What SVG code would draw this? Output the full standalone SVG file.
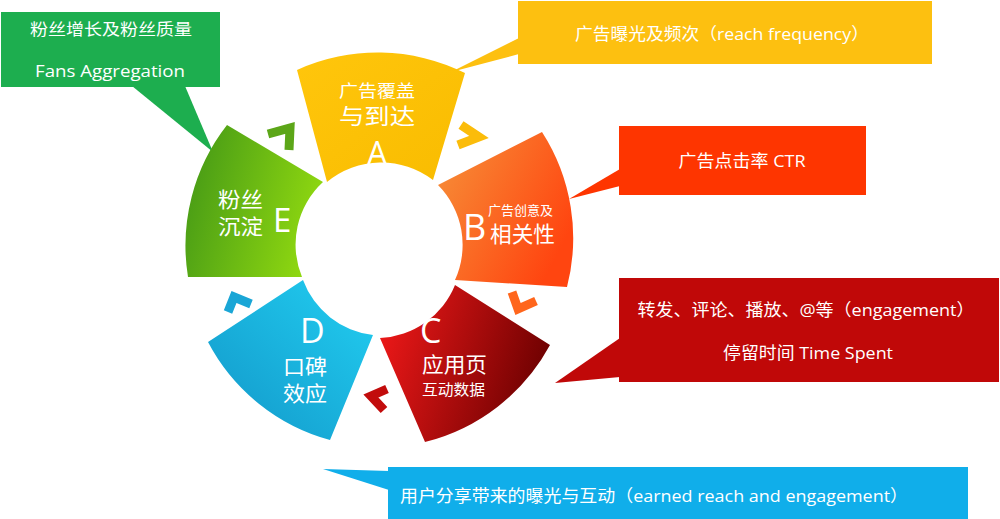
<svg xmlns="http://www.w3.org/2000/svg" width="1000" height="519" viewBox="0 0 1000 519">
<style>
.t{font-family:"Open Sans","Noto Sans CJK SC",sans-serif;fill:#ffffff;}
.l{font-family:"Open Sans","Liberation Sans",sans-serif;font-weight:400;fill:#ffffff;}
.ch{fill:none;stroke-width:9;stroke-linejoin:miter;stroke-linecap:butt;}
</style>
<defs>
<linearGradient id="gA" x1="0" y1="0" x2="1" y2="1"><stop offset="0" stop-color="#FFC60C"/><stop offset="1" stop-color="#F9BC00"/></linearGradient>
<linearGradient id="gB" x1="0" y1="0" x2="1" y2="0.6"><stop offset="0" stop-color="#F6923A"/><stop offset="1" stop-color="#FF4510"/></linearGradient>
<linearGradient id="gC" x1="0" y1="0.3" x2="1" y2="0.6"><stop offset="0" stop-color="#EC1818"/><stop offset="1" stop-color="#690000"/></linearGradient>
<linearGradient id="gD" x1="0" y1="1" x2="1" y2="0"><stop offset="0" stop-color="#1296C8"/><stop offset="1" stop-color="#22CFF2"/></linearGradient>
<linearGradient id="gE" x1="0" y1="0.3" x2="1" y2="0.6"><stop offset="0" stop-color="#469A16"/><stop offset="1" stop-color="#92DA10"/></linearGradient>
</defs>
<rect width="1000" height="519" fill="#ffffff"/>

<g id="callout-fans">
<polygon points="132,86 185,86 213,152" fill="#1DAE4F"/>
<rect x="1" y="12" width="219" height="75" fill="#1DAE4F"/>
<text class="t" x="111" y="35" font-size="16" text-anchor="middle" textLength="162" lengthAdjust="spacingAndGlyphs">粉丝增长及粉丝质量</text>
<text class="t" x="110" y="77" font-size="17" text-anchor="middle" textLength="150" lengthAdjust="spacingAndGlyphs">Fans Aggregation</text>
</g>

<g id="callout-reach">
<polygon points="519,38 519,54 451,72" fill="#FDC010"/>
<rect x="518" y="1" width="414" height="63" fill="#FDC010"/>
<text class="t" x="722" y="40" font-size="17" text-anchor="middle" textLength="294" lengthAdjust="spacingAndGlyphs">广告曝光及频次（reach frequency）</text>
</g>

<g id="callout-ctr">
<polygon points="620,169 620,186 569,199" fill="#FE3500"/>
<rect x="619" y="126" width="247" height="69" fill="#FE3500"/>
<text class="t" x="742" y="167" font-size="17" text-anchor="middle" textLength="127" lengthAdjust="spacingAndGlyphs">广告点击率 CTR</text>
</g>

<g id="callout-engagement">
<polygon points="620,338 620,377 555,383" fill="#C00808"/>
<rect x="619" y="278" width="380" height="104" fill="#C00808"/>
<text class="t" x="806" y="316" font-size="17" text-anchor="middle" textLength="337" lengthAdjust="spacingAndGlyphs">转发、评论、播放、@等（engagement）</text>
<text class="t" x="808" y="359" font-size="17" text-anchor="middle" textLength="170" lengthAdjust="spacingAndGlyphs">停留时间 Time Spent</text>
</g>

<g id="callout-earned">
<polygon points="389,471 389,490 323,469" fill="#10AEEA"/>
<rect x="388" y="467" width="580" height="52" fill="#10AEEA"/>
<text class="t" x="400" y="502" font-size="17" textLength="508" lengthAdjust="spacingAndGlyphs">用户分享带来的曝光与互动（earned reach and engagement）</text>
</g>

<g id="node-A">
<path d="M297,70 A196,196 0 0 1 465,73 L433,180 A85,85 0 0 0 327,182 Z" fill="url(#gA)"/>
<text class="t" x="377" y="97" font-size="17" text-anchor="middle" textLength="76" lengthAdjust="spacingAndGlyphs">广告覆盖</text>
<text class="t" x="377" y="124" font-size="22" text-anchor="middle" textLength="76" lengthAdjust="spacingAndGlyphs">与到达</text>
<text class="l" x="377" y="165" font-size="32" text-anchor="middle">A</text>
</g>

<g id="node-B">
<path d="M438,185 L542,132 A196,196 0 0 1 567,287 L455,280 A85,85 0 0 0 438,185 Z" fill="url(#gB)"/>
<text class="t" x="488" y="215" font-size="13" textLength="65" lengthAdjust="spacingAndGlyphs">广告创意及</text>
<text class="l" x="463" y="240" font-size="36">B</text>
<text class="t" x="490" y="242" font-size="22" textLength="65" lengthAdjust="spacingAndGlyphs">相关性</text>
</g>

<g id="node-C">
<path d="M455,285 L550,345 A196,196 0 0 1 425,442 L380,338 A85,85 0 0 0 455,285 Z" fill="url(#gC)"/>
<text class="l" x="420" y="343" font-size="34">C</text>
<text class="t" x="422" y="372" font-size="21" textLength="65" lengthAdjust="spacingAndGlyphs">应用页</text>
<text class="t" x="422" y="395" font-size="15" textLength="63" lengthAdjust="spacingAndGlyphs">互动数据</text>
</g>

<g id="node-D">
<path d="M373,335 L330,440 A196,196 0 0 1 208,342 L303,280 A85,85 0 0 0 373,335 Z" fill="url(#gD)"/>
<text class="l" x="300" y="343" font-size="34">D</text>
<text class="t" x="283" y="374" font-size="21" textLength="44" lengthAdjust="spacingAndGlyphs">口碑</text>
<text class="t" x="283" y="401" font-size="21" textLength="44" lengthAdjust="spacingAndGlyphs">效应</text>
</g>

<g id="node-E">
<path d="M302,277 L188,277 A196,196 0 0 1 227,125 L323,182 A85,85 0 0 0 302,277 Z" fill="url(#gE)"/>
<text class="t" x="218" y="207" font-size="21" textLength="45" lengthAdjust="spacingAndGlyphs">粉丝</text>
<text class="t" x="218" y="234" font-size="21" textLength="45" lengthAdjust="spacingAndGlyphs">沉淀</text>
<text class="l" x="273" y="232" font-size="33">E</text>
</g>

<g id="connectors">
<polyline class="ch" points="268,134 290,128 289,150" stroke="#5CA618"/>
<polyline class="ch" points="461,125 479,137 458,145" stroke="#FBBC0A"/>
<polyline class="ch" points="512,292 518,309 536,301" stroke="#FF661C"/>
<polyline class="ch" points="387,389 371,396 384,410" stroke="#C20C0C"/>
<polyline class="ch" points="228,312 234,297 251,304" stroke="#1AA6D6"/>
</g>
</svg>
